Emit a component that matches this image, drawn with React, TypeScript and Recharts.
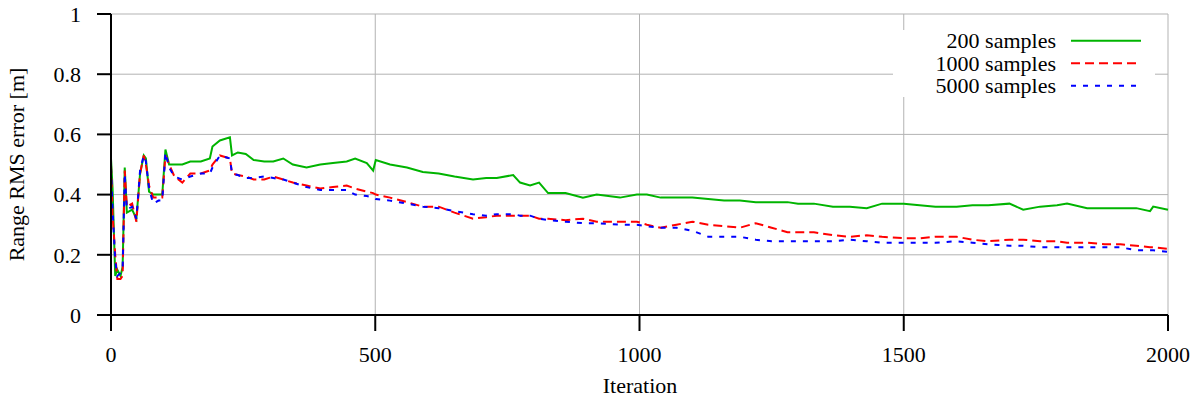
import { LineChart, Line, XAxis, YAxis, CartesianGrid, Legend, Label } from "recharts";

// values (iteration -> range RMS error in m)
const iterations = [
  0, 3, 8, 12, 18, 22, 26, 30, 40, 48, 55, 62, 66, 72, 80, 90, 97, 103, 110, 120,
  135, 150, 170, 187, 192, 206, 225, 229, 240, 255, 270, 290, 307, 326, 344, 370, 396, 420, 446, 462,
  484, 496, 501, 528, 560, 590, 620, 650, 685, 710, 730, 761, 774, 793, 810, 827, 860, 893, 919, 963,
  995, 1014, 1040, 1070, 1100, 1130, 1160, 1190, 1220, 1250, 1280, 1300, 1330, 1366, 1398, 1430, 1459, 1500, 1530, 1560,
  1600, 1630, 1660, 1700, 1726, 1758, 1790, 1809, 1847, 1880, 1910, 1940, 1966, 1972, 2000,
];

const samples200 = [
  0.52, 0.42, 0.13, 0.15, 0.13, 0.16, 0.49, 0.34, 0.35, 0.32, 0.47, 0.53, 0.52, 0.41, 0.4, 0.4, 0.4, 0.55, 0.5, 0.5,
  0.5, 0.51, 0.51, 0.52, 0.56, 0.58, 0.59, 0.53, 0.54, 0.535, 0.515, 0.51, 0.51, 0.52, 0.5, 0.49, 0.5, 0.505, 0.51, 0.52,
  0.505, 0.48, 0.515, 0.5, 0.49, 0.475, 0.47, 0.46, 0.45, 0.455, 0.455, 0.465, 0.44, 0.43, 0.44, 0.405, 0.405, 0.39, 0.4, 0.39,
  0.4, 0.4, 0.39, 0.39, 0.39, 0.385, 0.38, 0.38, 0.375, 0.375, 0.375, 0.37, 0.37, 0.36, 0.36, 0.355, 0.37, 0.37, 0.365, 0.36,
  0.36, 0.365, 0.365, 0.37, 0.35, 0.36, 0.365, 0.37, 0.355, 0.355, 0.355, 0.355, 0.345, 0.36, 0.35,
];

const samples1000 = [
  0.5, 0.33, 0.2, 0.12, 0.12, 0.13, 0.48, 0.36, 0.37, 0.31, 0.47, 0.53, 0.5, 0.43, 0.39, 0.39, 0.39, 0.53, 0.5, 0.46,
  0.44, 0.47, 0.47, 0.48, 0.5, 0.53, 0.52, 0.47, 0.465, 0.46, 0.45, 0.45, 0.46, 0.45, 0.44, 0.43, 0.42, 0.425, 0.43, 0.42,
  0.41, 0.405, 0.4, 0.39, 0.375, 0.36, 0.36, 0.34, 0.32, 0.325, 0.33, 0.33, 0.33, 0.33, 0.32, 0.32, 0.315, 0.32, 0.31, 0.31,
  0.31, 0.3, 0.29, 0.3, 0.31, 0.3, 0.295, 0.29, 0.305, 0.29, 0.275, 0.275, 0.275, 0.265, 0.26, 0.265, 0.26, 0.255, 0.255, 0.26,
  0.26, 0.25, 0.245, 0.25, 0.25, 0.245, 0.245, 0.24, 0.24, 0.235, 0.235, 0.23, 0.225, 0.225, 0.22,
];

const samples5000 = [
  0.49, 0.35, 0.18, 0.13, 0.14, 0.15, 0.47, 0.35, 0.36, 0.32, 0.48, 0.53, 0.51, 0.42, 0.37, 0.38, 0.38, 0.54, 0.49, 0.46,
  0.45, 0.46, 0.47, 0.47, 0.49, 0.53, 0.52, 0.47, 0.465, 0.455, 0.455, 0.46, 0.455, 0.45, 0.44, 0.425, 0.415, 0.415, 0.415, 0.4,
  0.395, 0.39, 0.385, 0.38, 0.37, 0.36, 0.355, 0.345, 0.335, 0.33, 0.335, 0.335, 0.33, 0.33, 0.32, 0.315, 0.31, 0.305, 0.305, 0.3,
  0.3, 0.295, 0.29, 0.29, 0.28, 0.26, 0.26, 0.26, 0.25, 0.245, 0.245, 0.245, 0.245, 0.245, 0.25, 0.245, 0.24, 0.24, 0.24, 0.24,
  0.245, 0.24, 0.235, 0.23, 0.23, 0.225, 0.225, 0.225, 0.225, 0.225, 0.225, 0.215, 0.215, 0.215, 0.21,
];

const seriesNames = ["200 samples", "1000 samples", "5000 samples"];
const xTicks = [0, 500, 1000, 1500, 2000];
const yTicks = [0, 0.2, 0.4, 0.6, 0.8, 1];

const FONT = '"Liberation Serif", "DejaVu Serif", serif';
const GREEN = "#00b400";
const RED = "#ff0000";
const BLUE = "#0000ff";

const data = iterations.map((it, i) => ({
  it,
  s200: samples200[i],
  s1000: samples1000[i],
  s5000: samples5000[i],
}));

// gnuplot-style key: right-aligned names, line sample after them, white box under it
function LegendBox() {
  const rows = [
    { name: seriesNames[0], color: GREEN, dash: undefined },
    { name: seriesNames[1], color: RED, dash: "9 5" },
    { name: seriesNames[2], color: BLUE, dash: "5 7" },
  ];
  return (
    <svg width={262} height={76} style={{ display: "block", overflow: "visible" }}>
      <rect x={0} y={6} width={262} height={67} fill="#fff" />
      {rows.map((r, i) => (
        <g key={r.name}>
          <text x={163} y={24 + i * 22.5} textAnchor="end" fontFamily={FONT} fontSize={22} fill="#000">
            {r.name}
          </text>
          <line x1={178} x2={248} y1={16.7 + i * 22.5} y2={16.7 + i * 22.5} stroke={r.color} strokeWidth={2} strokeDasharray={r.dash} />
        </g>
      ))}
    </svg>
  );
}

export default function App() {
  const tickStyle = { fill: "#000", fontSize: 22, fontFamily: FONT };
  return (
    <div style={{ position: "absolute", left: 0, top: 0, background: "#fff" }}>
      <LineChart width={1202} height={403} data={data} margin={{ top: 14, right: 34, left: 0, bottom: 0 }}>
        <CartesianGrid stroke="#b3b3b3" strokeWidth={1} />
        <XAxis
          dataKey="it"
          type="number"
          domain={[0, 2000]}
          ticks={xTicks}
          height={88}
          tickSize={16}
          tickMargin={15}
          tick={tickStyle}
          tickLine={{ stroke: "#000", strokeWidth: 2 }}
          axisLine={{ stroke: "#000", strokeWidth: 2 }}
        >
          <Label
            content={() => (
              <text x={640} y={393} textAnchor="middle" fontFamily={FONT} fontSize={22} fill="#000">
                Iteration
              </text>
            )}
          />
        </XAxis>
        <YAxis
          type="number"
          domain={[0, 1]}
          ticks={yTicks}
          width={111}
          tickSize={14}
          tickMargin={16}
          tick={tickStyle}
          tickLine={{ stroke: "#000", strokeWidth: 2 }}
          axisLine={{ stroke: "#000", strokeWidth: 2 }}
        >
          <Label
            content={() => (
              <text x={24} y={164.5} transform="rotate(-90 24 164.5)" textAnchor="middle" fontFamily={FONT} fontSize={22} fill="#000">
                Range RMS error [m]
              </text>
            )}
          />
        </YAxis>
        <Legend
          layout="vertical"
          align="center"
          verticalAlign="middle"
          wrapperStyle={{ left: 893, top: 24, width: 262 }}
          content={() => <LegendBox />}
        />
        <Line dataKey="s200" name={seriesNames[0]} stroke={GREEN} strokeWidth={2} dot={false} activeDot={false} isAnimationActive={false} />
        <Line dataKey="s1000" name={seriesNames[1]} stroke={RED} strokeWidth={2} strokeDasharray="9 5" dot={false} activeDot={false} isAnimationActive={false} />
        <Line dataKey="s5000" name={seriesNames[2]} stroke={BLUE} strokeWidth={2} strokeDasharray="5 7" dot={false} activeDot={false} isAnimationActive={false} />
      </LineChart>
    </div>
  );
}
